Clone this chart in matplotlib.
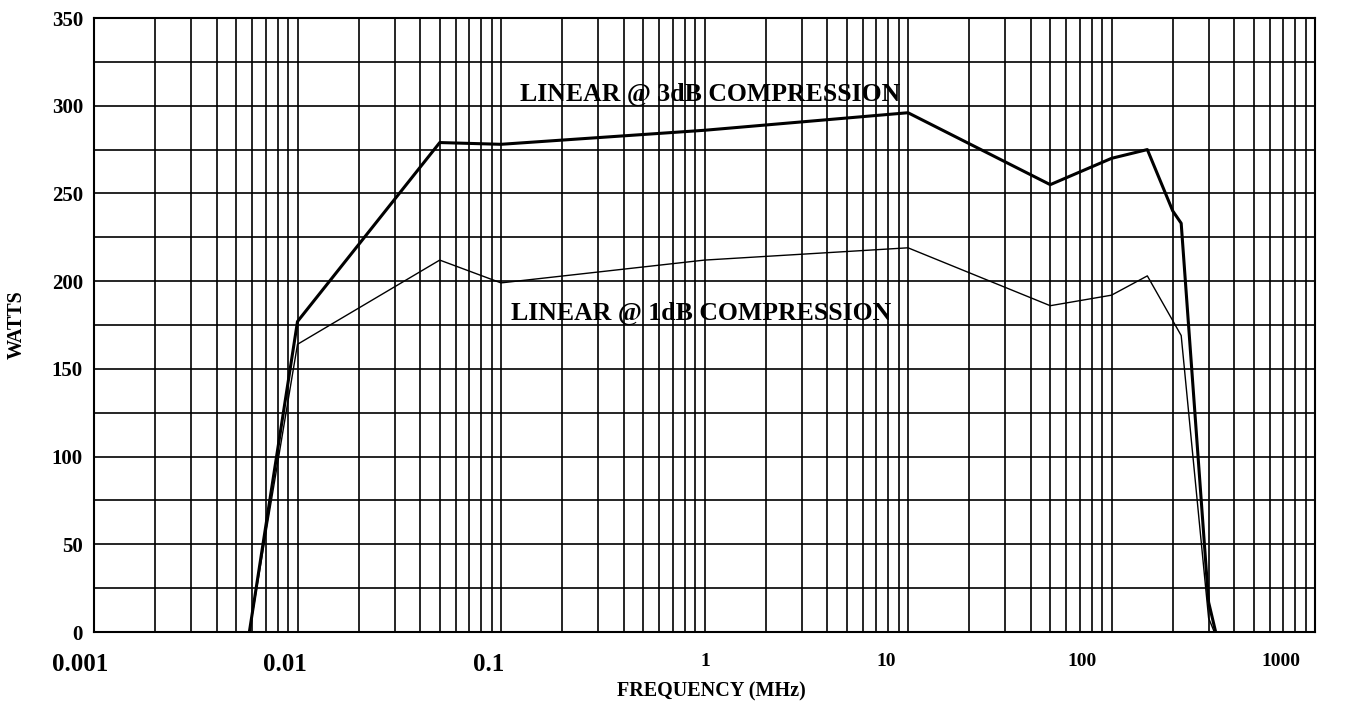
import numpy as np
import matplotlib
matplotlib.use('Agg')
from matplotlib import pyplot as plt
from matplotlib import transforms
from matplotlib.ticker import LogLocator, MultipleLocator, NullFormatter

# data (frequency in MHz, power in watts)
freq_3db = [0.0058, 0.01, 0.05, 0.1, 1, 10, 50, 100, 150, 200, 220, 300, 325]
watts_3db = [0, 177, 279, 278, 286, 296, 255, 270, 275, 240, 233, 17, 0]

freq_1db = [0.0058, 0.01, 0.05, 0.1, 1, 10, 50, 100, 150, 220, 300, 320]
watts_1db = [0, 164, 212, 199, 212, 219, 186, 192, 203, 169, 8, 0]

x_ticks = [0.001, 0.01, 0.1, 1, 10, 100, 1000]
x_tick_labels = ['0.001', '0.01', '0.1', '1', '10', '100', '1000']
y_ticks = [0, 50, 100, 150, 200, 250, 300, 350]

plt.rcParams['font.family'] = ['Liberation Serif', 'DejaVu Serif']
plt.rcParams['font.weight'] = 'bold'

fig = plt.figure(figsize=(13.49, 7.04), dpi=100)
ax = fig.add_axes([94/1349, 1 - 632/704, (1315 - 94)/1349, (632 - 18)/704])

ax.plot(freq_3db, watts_3db, color='black', lw=2.2)
ax.plot(freq_1db, watts_1db, color='black', lw=1.0)

ax.set_xscale('log')
ax.set_xlim(0.001, 1000)
ax.set_ylim(0, 350)

ax.xaxis.set_minor_locator(LogLocator(base=10, subs=np.arange(2, 10)))
ax.xaxis.set_minor_formatter(NullFormatter())
ax.yaxis.set_minor_locator(MultipleLocator(25))
ax.grid(which='both', color='black', lw=1.2)
ax.set_axisbelow(True)

ax.set_yticks(y_ticks)
ax.set_yticklabels([str(v) for v in y_ticks], fontsize=15, fontweight='bold')
ax.tick_params(axis='y', which='both', length=0, pad=8)

ax.set_xticks(x_ticks)
ax.set_xticklabels(x_tick_labels, fontweight='bold')
ax.tick_params(axis='x', which='both', length=0, pad=15)

# labels in the original sit left of their ticks, and the first three are bigger
sizes = [18, 18, 18, 14, 14, 14, 14]
shifts = [-14, -13, -12, 1, -22, -29, -34]
for lab, s, dx in zip(ax.get_xticklabels(), sizes, shifts):
    lab.set_fontsize(s)
    lab.set_verticalalignment('top')
    off = transforms.ScaledTranslation(dx / 100, 0, fig.dpi_scale_trans)
    lab.set_transform(lab.get_transform() + off)

for sp in ax.spines.values():
    sp.set_color('black')
    sp.set_linewidth(1.5)

fig.text(711/1349, 1 - 691/704, 'FREQUENCY (MHz)', fontsize=14.5, fontweight='bold',
         ha='center', va='center')
fig.text(17/1349, 1 - 325/704, 'WATTS', fontsize=14.5, fontweight='bold',
         ha='center', va='center', rotation=90)

fig.text(710/1349, 1 - 94/704, 'LINEAR @ 3dB COMPRESSION',
         ha='center', va='center', fontsize=18.5, fontweight='bold')
fig.text(701/1349, 1 - 313.5/704, 'LINEAR @ 1dB COMPRESSION',
         ha='center', va='center', fontsize=18.5, fontweight='bold')

fig.savefig('out.png', dpi=100)
